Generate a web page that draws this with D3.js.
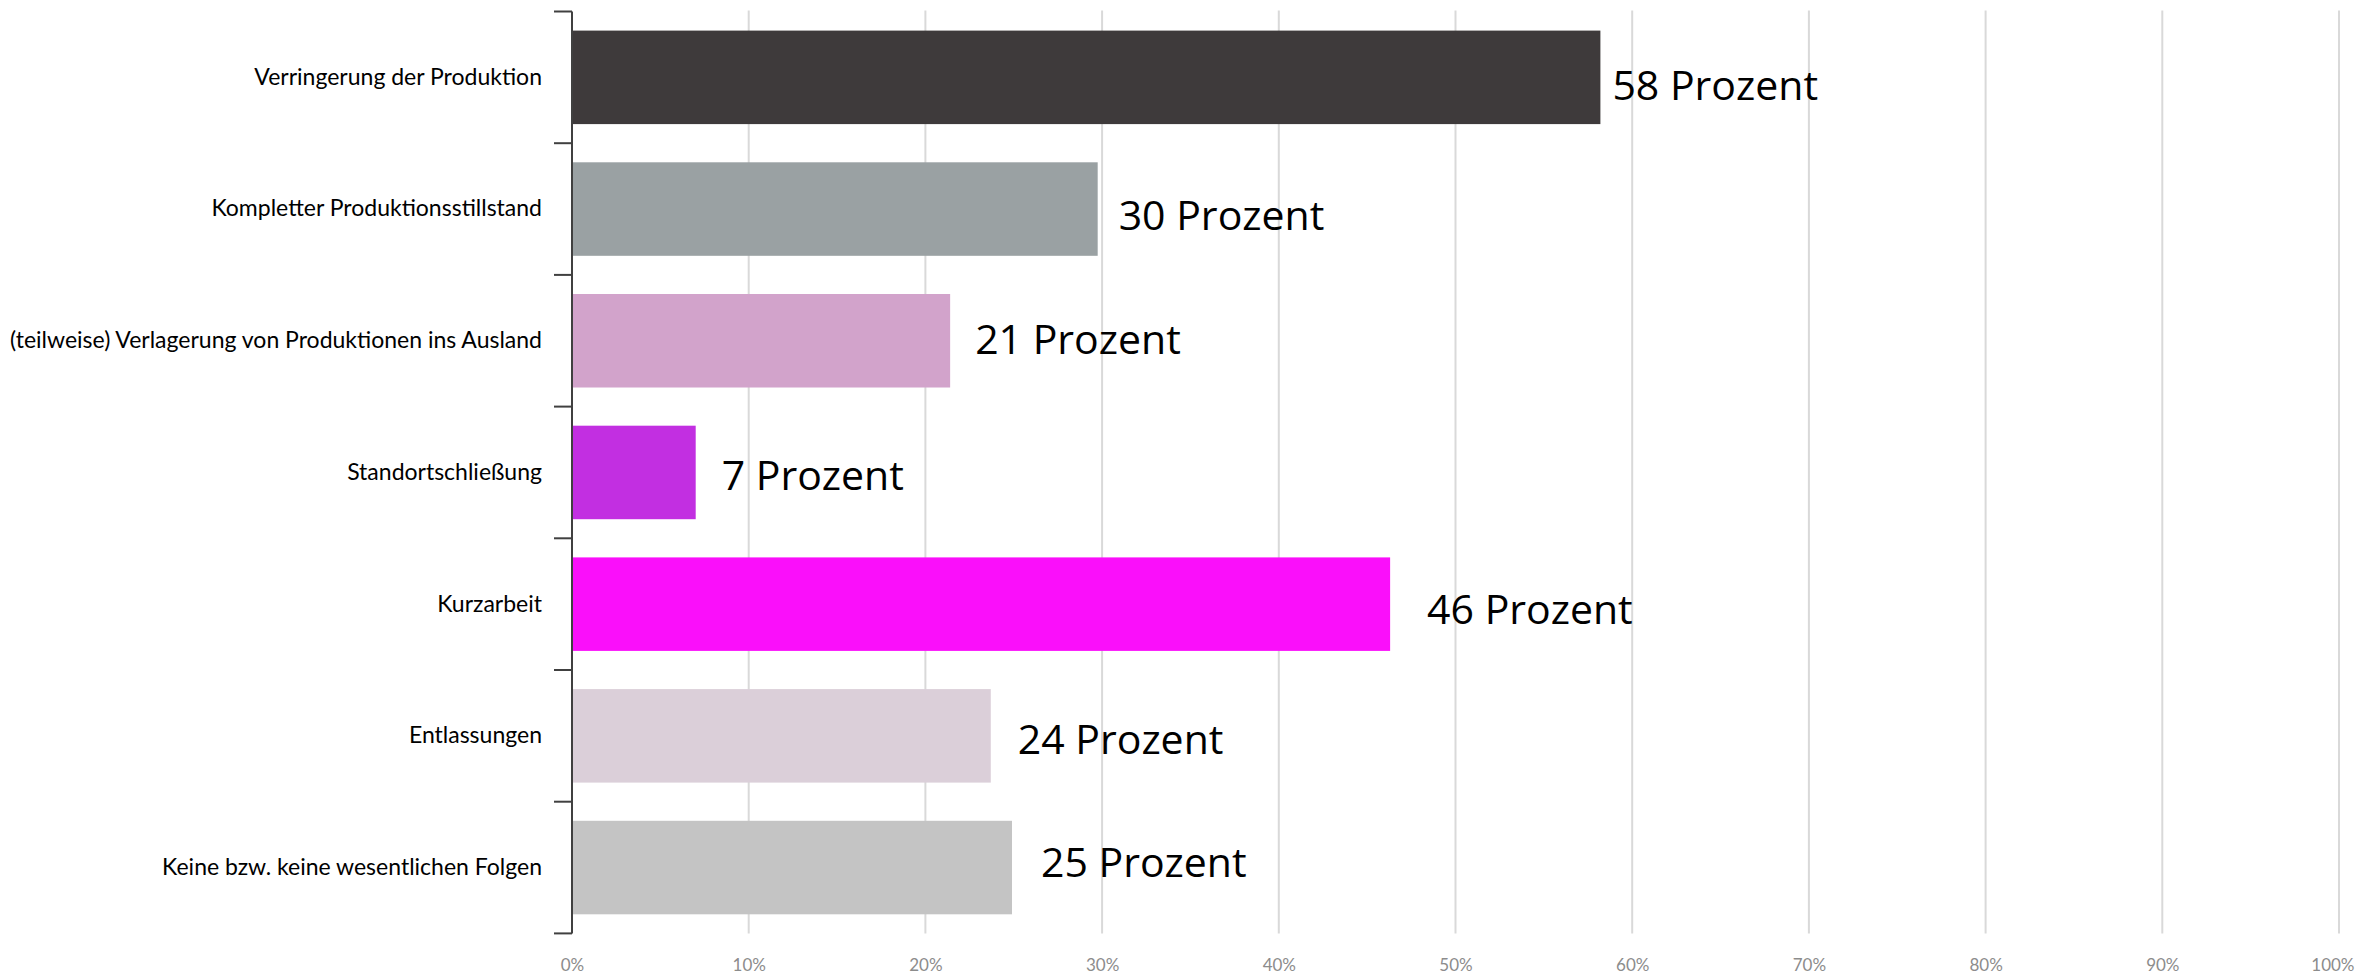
<!DOCTYPE html>
<html>
<head>
<meta charset="utf-8">
<script src="https://cdn.jsdelivr.net/npm/d3@7"></script>
<style>
  html, body { margin: 0; padding: 0; background: #ffffff; }
  svg { display: block; }
</style>
</head>
<body>
<svg id="chart" width="2356" height="976"></svg>
<script>
// ---- data ----
const categories = [
  "Verringerung der Produktion",
  "Kompletter Produktionsstillstand",
  "(teilweise) Verlagerung von Produktionen ins Ausland",
  "Standortschließung",
  "Kurzarbeit",
  "Entlassungen",
  "Keine bzw. keine wesentlichen Folgen"
];
const values = [58.2, 29.75, 21.4, 7.0, 46.3, 23.7, 24.9];
const valueLabels = ["58 Prozent", "30 Prozent", "21 Prozent", "7 Prozent", "46 Prozent", "24 Prozent", "25 Prozent"];
const barColors = ["#3e3a3b", "#9aa1a3", "#d2a3cb", "#c22fe1", "#fa0ffa", "#dbcfd9", "#c4c4c4"];
const xTicks = [0, 10, 20, 30, 40, 50, 60, 70, 80, 90, 100];
const xTickLabels = ["0%", "10%", "20%", "30%", "40%", "50%", "60%", "70%", "80%", "90%", "100%"];

// ---- layout (manual label nudges, px) ----
const labelDx = [12, 21, 25, 26, 37, 27, 29];
const labelDy = [7, 5, -3, 2, 4, 2, -7];

(function draw() {
  const W = 2356;
  const svg = d3.select("#chart");
  const pLeft = 572, pRight = 2339, pTop = 11.5, pBottom = 933.4;

  const x = d3.scaleLinear().domain([0, 100]).range([pLeft, pRight]);
  const y = d3.scaleBand().domain(categories).range([pTop, pBottom])
    .paddingInner(0.29).paddingOuter(0.145);

  // gridlines
  svg.append("g").selectAll("line").data(xTicks.filter(d => d > 0)).join("line")
    .attr("x1", d => x(d)).attr("x2", d => x(d))
    .attr("y1", pTop - 1).attr("y2", pBottom)
    .attr("stroke", "#d9d9d9").attr("stroke-width", 2);

  // bars
  svg.append("g").selectAll("rect").data(values).join("rect")
    .attr("x", x(0))
    .attr("y", (d, i) => y(categories[i]))
    .attr("width", d => x(d) - x(0))
    .attr("height", y.bandwidth())
    .attr("fill", (d, i) => barColors[i]);

  // value labels
  svg.append("g").selectAll("text").data(values).join("text")
    .attr("x", (d, i) => x(d) + labelDx[i])
    .attr("y", (d, i) => y(categories[i]) + y.bandwidth() / 2 + labelDy[i])
    .attr("dominant-baseline", "central")
    .attr("font-family", "'Open Sans', sans-serif")
    .attr("font-size", 41)
    .attr("fill", "#000000")
    .text((d, i) => valueLabels[i]);

  // y axis labels
  const yAxis = d3.axisLeft(y).tickSize(0).tickPadding(30);
  const gy = svg.append("g").attr("transform", `translate(${pLeft},0)`).call(yAxis);
  gy.select(".domain").remove();
  gy.selectAll("text")
    .attr("font-family", "Lato, sans-serif")
    .attr("font-size", 23)
    .attr("fill", "#000000");

  // axis line and boundary ticks
  const boundaries = d3.range(categories.length + 1).map(i => pTop + i * y.step());
  svg.append("line")
    .attr("x1", pLeft).attr("x2", pLeft)
    .attr("y1", boundaries[0]).attr("y2", boundaries[boundaries.length - 1])
    .attr("stroke", "#404040").attr("stroke-width", 2);
  svg.append("g").selectAll("line").data(boundaries).join("line")
    .attr("x1", pLeft - 18).attr("x2", pLeft)
    .attr("y1", d => d).attr("y2", d => d)
    .attr("stroke", "#404040").attr("stroke-width", 2);

  // x axis labels
  const xAxis = d3.axisBottom(x).tickValues(xTicks).tickSize(0).tickPadding(26)
    .tickFormat((d, i) => xTickLabels[i]);
  const gx = svg.append("g").attr("transform", `translate(0,${pBottom})`).call(xAxis);
  gx.select(".domain").remove();
  gx.selectAll("text")
    .attr("font-family", "Lato, sans-serif")
    .attr("font-size", 17)
    .attr("fill", "#8c8c8c");
  // keep the last label inside the page
  gx.selectAll(".tick").filter(d => d === 100).select("text")
    .attr("text-anchor", "end")
    .attr("x", (W - 2) - x(100));
})();
</script>
</body>
</html>
